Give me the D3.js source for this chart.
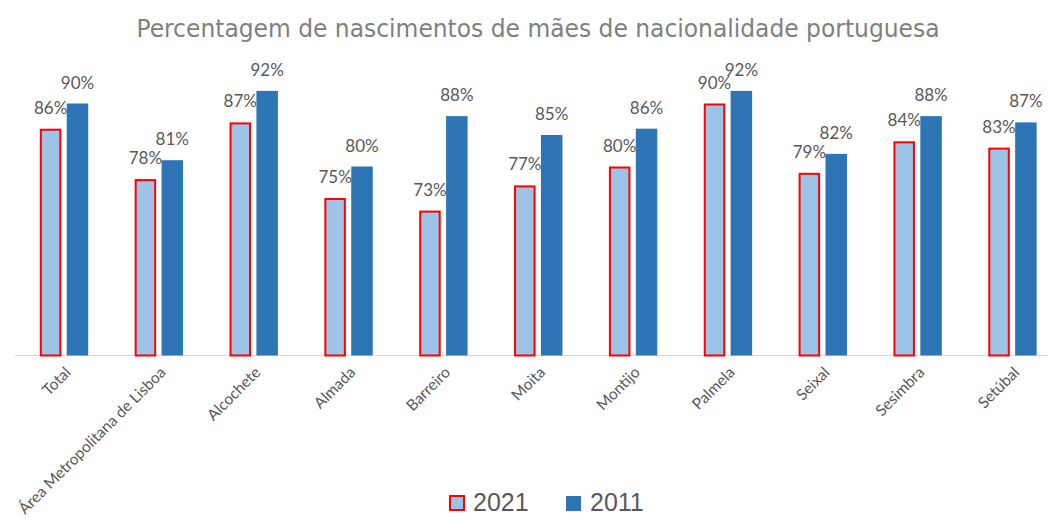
<!DOCTYPE html>
<html>
<head>
<meta charset="utf-8">
<script src="https://cdn.jsdelivr.net/npm/d3@7"></script>
<style>
  body { margin: 0; background: #fff; }
  svg { display: block; }
</style>
</head>
<body>
<svg width="1048" height="524"></svg>
<script>
"use strict";
const categories = ["Total", "Área Metropolitana de Lisboa", "Alcochete", "Almada", "Barreiro",
    "Moita", "Montijo", "Palmela", "Seixal", "Sesimbra", "Setúbal"];
const seriesNames = ["2021", "2011"];
const values2021 = [86, 78, 87, 75, 73, 77, 80, 90, 79, 84, 83];
const values2011 = [90, 81, 92, 80, 88, 85, 86, 92, 82, 88, 87];

const svg = d3.select("svg");
const baseY = 355.5;
const textColor = "#595959";

const x = d3.scaleBand()
    .domain(categories)
    .range([16.6, 1059.9])
    .paddingInner(0.49)
    .paddingOuter(0.245);
const xSub = d3.scaleBand()
    .domain(seriesNames)
    .range([0, x.bandwidth()])
    .paddingInner(0.2);
const y = d3.scaleLinear()
    .domain([50, 100])
    .range([baseY, baseY - 315]);

const fill = { "2021": "#9DC3E6", "2011": "#2E75B6" };

// title
svg.append("text")
    .attr("x", 538)
    .attr("y", 37)
    .attr("text-anchor", "middle")
    .attr("textLength", 803)
    .attr("lengthAdjust", "spacingAndGlyphs")
    .style("font-family", "'Liberation Sans Narrow', 'DejaVu Sans Condensed', 'Liberation Sans', sans-serif")
    .style("font-size", "25px")
    .style("fill", "#808080")
    .text("Percentagem de nascimentos de mães de nacionalidade portuguesa");

// axis baseline
svg.append("line")
    .attr("x1", 15).attr("x2", 1048)
    .attr("y1", baseY).attr("y2", baseY)
    .style("stroke", "#d9d9d9")
    .style("stroke-width", 1);

const rows = categories.map((c, i) => ({ cat: c, "2021": values2021[i], "2011": values2011[i] }));

const groups = svg.append("g")
    .selectAll("g")
    .data(rows)
    .enter()
    .append("g")
    .attr("transform", d => `translate(${x(d.cat)},0)`);

const bars = groups.selectAll("g.bar")
    .data(d => seriesNames.map(s => ({ key: s, value: d[s] })))
    .enter()
    .append("g")
    .attr("class", "bar");

bars.append("rect")
    .attr("x", d => xSub(d.key) + (d.key === "2021" ? 1 : 0))
    .attr("width", d => xSub.bandwidth() - (d.key === "2021" ? 2 : 0))
    .attr("y", d => y(d.value) + (d.key === "2021" ? 1 : 0))
    .attr("height", d => baseY - y(d.value) - (d.key === "2021" ? 1 : 0))
    .style("fill", d => fill[d.key])
    .style("stroke", d => d.key === "2021" ? "#ff0000" : "none")
    .style("stroke-width", 2);

bars.append("text")
    .attr("x", d => xSub(d.key) + xSub.bandwidth() / 2)
    .attr("y", d => y(d.value) - 15)
    .attr("text-anchor", "middle")
    .style("font-family", "Lato, 'Open Sans', sans-serif")
    .style("font-size", "17px")
    .style("fill", textColor)
    .text(d => `${d.value}%`);

// category labels
svg.append("g")
    .selectAll("text")
    .data(categories)
    .enter()
    .append("text")
    .attr("transform", d => `translate(${x(d) + x.bandwidth() / 2 + 4},${baseY + 14}) rotate(-45)`)
    .attr("text-anchor", "end")
    .attr("dy", "0.35em")
    .style("font-family", "Lato, 'Open Sans', sans-serif")
    .style("font-size", "15.5px")
    .style("fill", textColor)
    .text(d => d);

// legend
const legendItems = [
    { key: "2021", x: 449 },
    { key: "2011", x: 566 }
];
const legend = svg.append("g").attr("class", "legend");
legend.selectAll("rect")
    .data(legendItems)
    .enter()
    .append("rect")
    .attr("x", d => d.x + (d.key === "2021" ? 1 : 0))
    .attr("y", 495 + 1)
    .attr("width", d => d.key === "2021" ? 14 : 15)
    .attr("height", d => d.key === "2021" ? 14 : 15)
    .style("fill", d => fill[d.key])
    .style("stroke", d => d.key === "2021" ? "#ff0000" : "none")
    .style("stroke-width", 2);
legend.selectAll("text")
    .data(legendItems)
    .enter()
    .append("text")
    .attr("x", d => d.x + 24)
    .attr("y", 511)
    .style("font-family", "'Liberation Sans', sans-serif")
    .style("font-size", "25px")
    .style("fill", textColor)
    .text(d => d.key);
</script>
</body>
</html>
